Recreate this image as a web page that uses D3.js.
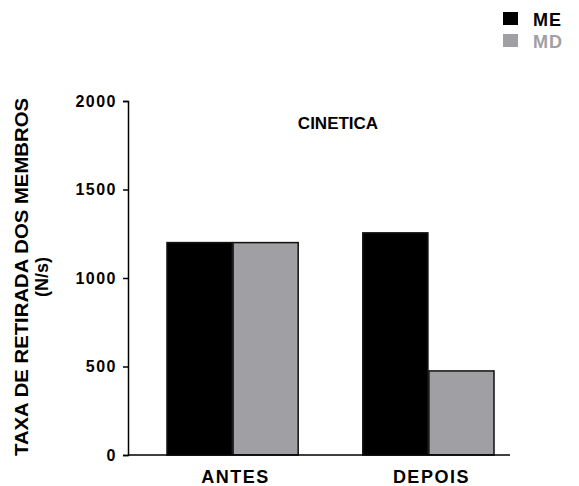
<!DOCTYPE html>
<html>
<head>
<meta charset="utf-8">
<script src="https://cdn.jsdelivr.net/npm/d3@7"></script>
<style>
  body { margin: 0; background: #fff; }
  svg { display: block; font-family: "Liberation Sans", Arial, sans-serif; }
</style>
</head>
<body>
<div id="chart"></div>
<script>
const groups = ["ANTES", "DEPOIS"];
const seriesNames = ["ME", "MD"];
const meValues = [1200, 1255];
const mdValues = [1200, 475];
const yTicks = [0, 500, 1000, 1500, 2000];
const colors = { ME: "#000000", MD: "#a0a0a4" };

const W = 579, H = 486;
const svg = d3.select("#chart").append("svg")
  .attr("width", W).attr("height", H);

// plot frame, pixel positions
const x0 = 128, yBottom = 455, yTop = 101;

const y = d3.scaleLinear().domain([0, 2000]).range([yBottom, yTop]);

const x = d3.scaleBand().domain(groups).range([167, 494]).paddingInner(0.33).paddingOuter(0);
const xs = d3.scaleBand().domain(seriesNames).range([0, x.bandwidth()]).paddingInner(0.015);

// y axis
const yAxis = svg.append("g")
  .attr("transform", `translate(${x0},0)`)
  .call(d3.axisLeft(y).tickValues(yTicks).tickSize(5).tickPadding(6).tickFormat(d3.format("d")));
yAxis.select(".domain").attr("stroke", "#000").attr("stroke-width", 1.5);
yAxis.selectAll(".tick line").attr("stroke", "#000").attr("stroke-width", 1.5);
yAxis.selectAll(".tick text")
  .attr("font-size", 16).attr("font-weight", "bold").attr("fill", "#000")
  .attr("letter-spacing", 1.5)
  .attr("font-family", "Liberation Sans, Arial, sans-serif");

// bars
const data = groups.map((g, i) => ({ g, vals: [
  { s: "ME", v: meValues[i] }, { s: "MD", v: mdValues[i] }] }));

const gg = svg.append("g").selectAll("g").data(data).join("g")
  .attr("transform", d => `translate(${x(d.g)},0)`);

gg.selectAll("rect").data(d => d.vals).join("rect")
  .attr("x", d => xs(d.s))
  .attr("y", d => y(d.v))
  .attr("width", xs.bandwidth())
  .attr("height", d => yBottom - y(d.v))
  .attr("fill", d => colors[d.s])
  .attr("stroke", "#111")
  .attr("stroke-width", 1.5);

// x axis baseline
svg.append("line")
  .attr("x1", x0).attr("x2", 510)
  .attr("y1", yBottom).attr("y2", yBottom)
  .attr("stroke", "#000").attr("stroke-width", 1.5);

// category labels
svg.append("g").selectAll("text").data(groups).join("text")
  .attr("x", d => x(d) + x.bandwidth() / 2 + 3)
  .attr("y", 483)
  .attr("text-anchor", "middle")
  .attr("font-size", 18).attr("font-weight", "bold")
  .attr("letter-spacing", 1.5)
  .text(d => d);

// title
svg.append("text")
  .attr("x", 338).attr("y", 129)
  .attr("text-anchor", "middle")
  .attr("font-size", 17).attr("font-weight", "bold")
  .text("CINETICA");

// y label
const yl = svg.append("g").attr("transform", "translate(0,277) rotate(-90)");
yl.append("text")
  .attr("x", 0).attr("y", 28)
  .attr("text-anchor", "middle")
  .attr("font-size", 19).attr("font-weight", "bold")
  .attr("textLength", 358).attr("lengthAdjust", "spacingAndGlyphs")
  .text("TAXA DE RETIRADA DOS MEMBROS");
yl.append("text")
  .attr("x", 0).attr("y", 48)
  .attr("text-anchor", "middle")
  .attr("font-size", 18).attr("font-weight", "bold")
  .attr("textLength", 40).attr("lengthAdjust", "spacingAndGlyphs")
  .text("(N/s)");

// legend
const leg = svg.append("g").selectAll("g").data(seriesNames).join("g")
  .attr("transform", (d, i) => `translate(503,${12 + i * 22})`);
leg.append("rect")
  .attr("width", 15).attr("height", 13)
  .attr("fill", d => colors[d]);
leg.append("text")
  .attr("x", 30).attr("y", 14)
  .attr("font-size", 18).attr("font-weight", "bold")
  .attr("letter-spacing", 1)
  .attr("fill", d => d === "ME" ? "#000" : "#a0a0a4")
  .text(d => d);
</script>
</body>
</html>
